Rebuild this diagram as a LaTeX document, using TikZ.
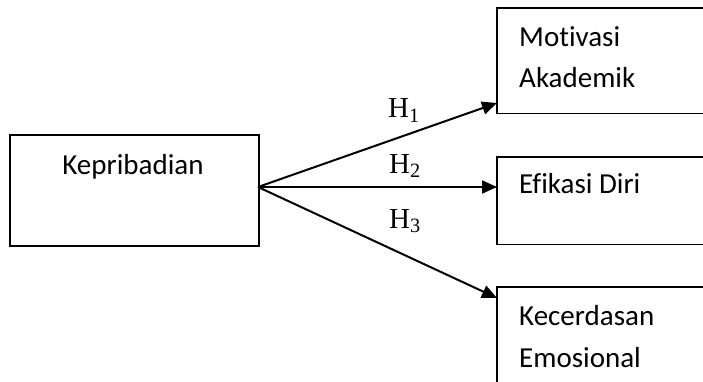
\documentclass[tikz,border=0pt]{standalone}
\usepackage{fontspec}
\setmainfont{Carlito}[Ligatures={NoCommon}]
\newfontfamily\hfont{Liberation Serif}
\usetikzlibrary{arrows.meta}
\tikzset{
  boxnode/.style={rectangle, anchor=north west, inner sep=0pt},
  boxline/.style={line width=1.6pt},
  boxtext/.style={font=\fontsize{29}{41}\selectfont, inner sep=0pt},
  hlabel/.style={font=\hfont\fontsize{29}{30}\selectfont, inner sep=0pt, anchor=base west},
  conn/.style={line width=2pt, -{Triangle[length=15pt,width=13pt]}}
}
\begin{document}
\begin{tikzpicture}[x=1pt,y=-1pt]
\useasboundingbox (0,0) rectangle (703,382);
\fill[white] (0,0) rectangle (703,382);
% boxes
\node[boxnode, draw, boxline, minimum width=249pt, minimum height=111pt] (kep) at (9,134) {};
\node[boxnode, minimum width=230pt, minimum height=105pt] (mot) at (497,8) {};
\node[boxnode, minimum width=230pt, minimum height=87pt] (efi) at (497,157) {};
\node[boxnode, minimum width=230pt, minimum height=140pt] (kec) at (497,287) {};
\draw[boxline] (mot.north east) -- (mot.north west) -- (mot.south west) -- (mot.south east);
\draw[boxline] (efi.north east) -- (efi.north west) -- (efi.south west) -- (efi.south east);
\draw[boxline] (kec.north east) -- (kec.north west) -- (kec.south west);
% texts
\node[boxtext, anchor=base] (tkep) at (133,175) {Kepribadian};
\node[boxtext, anchor=base west] (tmot1) at (519,47) {Motivasi};
\node[boxtext, anchor=base west] (tmot2) at (519,88) {Akademik};
\node[boxtext, anchor=base west] (tefi) at (519,193) {Efikasi Diri};
\node[boxtext, anchor=base west] (tkec1) at (519,325) {Kecerdasan};
\node[boxtext, anchor=base west] (tkec2) at (519,367) {Emosional};
% connector points
\coordinate (src) at (258,187);
\coordinate (e1) at (497,103);
\coordinate (e2) at (497,187);
\coordinate (e3) at (497,298);
\draw[conn] (src) -- (e1);
\draw[conn] (src) -- (e2);
\draw[conn] (src) -- (e3);
% labels
\node[hlabel] (h1) at (388,118) {H\textsubscript{1}};
\node[hlabel] (h2) at (389,173) {H\textsubscript{2}};
\node[hlabel] (h3) at (389,228) {H\textsubscript{3}};
\end{tikzpicture}
\end{document}
